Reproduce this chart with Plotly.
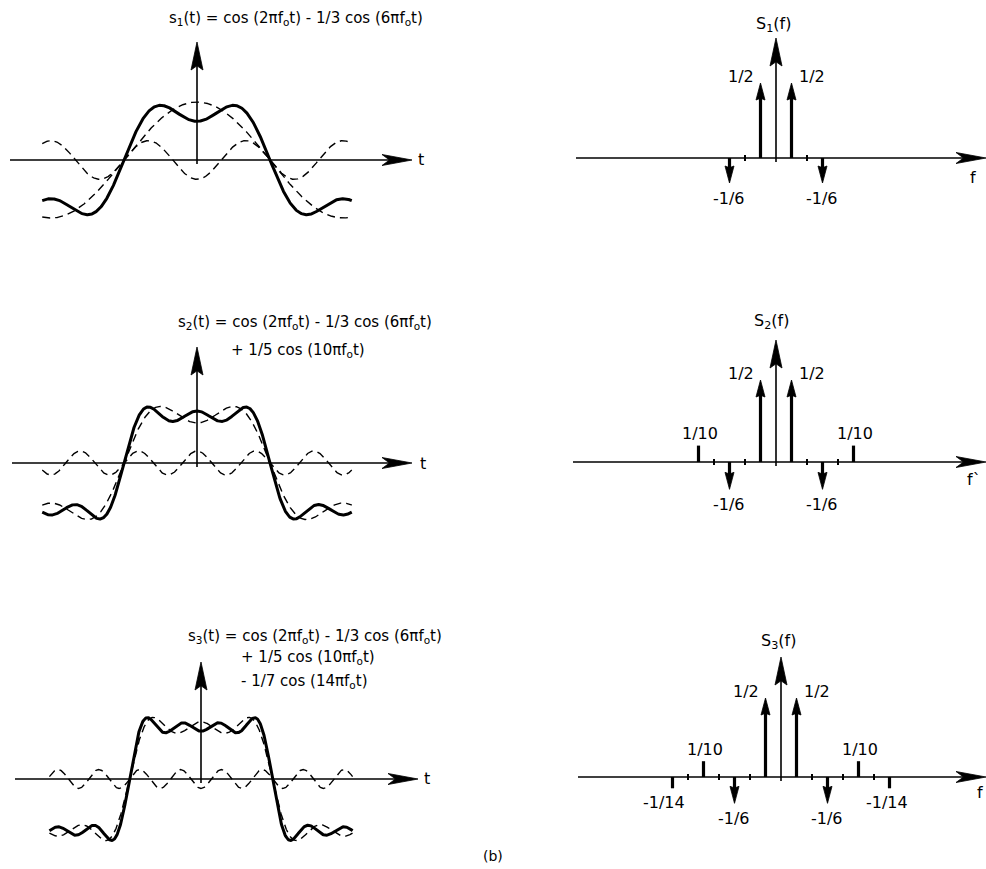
import numpy as np
import plotly.graph_objects as go

W, H = 986, 869

# ---------------- data ----------------
# Fourier series of the square wave: harmonic numbers and coefficients
harmonics = [1, 3, 5, 7]
coeffs = [1.0, -1/3, 1/5, -1/7]
t_start, t_end = -0.53, 0.53          # time span, in periods T = 1/f0

# Spectra (two-sided): frequency in multiples of f0, amplitude, label
spec1_f = [-3, -1, 1, 3]
spec1_a = [-1/6, 1/2, 1/2, -1/6]
spec1_lbl = ["-1/6", "1/2", "1/2", "-1/6"]

spec2_f = [-5, -3, -1, 1, 3, 5]
spec2_a = [1/10, -1/6, 1/2, 1/2, -1/6, 1/10]
spec2_lbl = ["1/10", "-1/6", "1/2", "1/2", "-1/6", "1/10"]

spec3_f = [-7, -5, -3, -1, 1, 3, 5, 7]
spec3_a = [-1/14, 1/10, -1/6, 1/2, 1/2, -1/6, 1/10, -1/14]
spec3_lbl = ["-1/14", "1/10", "-1/6", "1/2", "1/2", "-1/6", "1/10", "-1/14"]

spec_ticks = [[-2, 2], [-4, -2, 2, 4], [-6, -4, -2, 2, 4, 6]]

titles = [
    ["s<sub>1</sub>(t) = cos (2πf<sub>o</sub>t) - 1/3 cos (6πf<sub>o</sub>t)"],
    ["s<sub>2</sub>(t) = cos (2πf<sub>o</sub>t) - 1/3 cos (6πf<sub>o</sub>t)",
     "+ 1/5 cos (10πf<sub>o</sub>t)"],
    ["s<sub>3</sub>(t) = cos (2πf<sub>o</sub>t) - 1/3 cos (6πf<sub>o</sub>t)",
     "+ 1/5 cos (10πf<sub>o</sub>t)",
     "- 1/7 cos (14πf<sub>o</sub>t)"],
]
spec_titles = ["S<sub>1</sub>(f)", "S<sub>2</sub>(f)", "S<sub>3</sub>(f)"]
freq_axis_labels = ["f", "f`", "f"]

# ---------------- layout geometry (pixels) ----------------
time_panels = [
    dict(box=(0, 0, 440, 245), origin=(197, 160), scale=(292, 58), hax=(10, 412), vtop=42,
         title_pos=[(167, 18)], tlabel=(421, 160)),
    dict(box=(0, 285, 440, 555), origin=(197, 463), scale=(292, 60), hax=(12, 412), vtop=347,
         title_pos=[(176, 323), (229, 350)], tlabel=(423, 464)),
    dict(box=(0, 595, 440, 869), origin=(201, 779), scale=(286, 66), hax=(15, 418), vtop=662,
         title_pos=[(186, 636), (239, 657), (239, 681)], tlabel=(427, 778)),
]
freq_panels = [
    dict(box=(545, 0, 986, 245), origin=(776, 158), scale=(15.5, 150), hax=(576, 986), vtop=38,
         title_pos=(773, 24), flabel=(973, 177)),
    dict(box=(545, 285, 986, 555), origin=(776, 462), scale=(15.5, 164), hax=(573, 986), vtop=340,
         title_pos=(771, 321), flabel=(974, 480)),
    dict(box=(545, 595, 986, 869), origin=(781, 777), scale=(15.5, 158), hax=(578, 986), vtop=657,
         title_pos=(778, 641), flabel=(980, 792)),
]

FONT = "DejaVu Sans, Liberation Sans, Arial, sans-serif"
TITLE_SIZE = 15
LABEL_SIZE = 16
fig = go.Figure()
layout_axes = {}
annotations = []


def setup_axes(i, p):
    l, t, r, b = p["box"]
    ox, oy = p["origin"]
    sx, sy = p["scale"]
    xr = [(l - ox) / sx, (r - ox) / sx]
    yr = [(oy - b) / sy, (oy - t) / sy]
    sfx = "" if i == 1 else str(i)
    layout_axes["xaxis" + sfx] = dict(domain=[l / W, r / W], range=xr, visible=False,
                                      anchor="y" + sfx, fixedrange=True)
    layout_axes["yaxis" + sfx] = dict(domain=[1 - b / H, 1 - t / H], range=yr, visible=False,
                                      anchor="x" + sfx, fixedrange=True)
    return "x" + sfx, "y" + sfx


def arrow_poly(x, y, direction, L, w, notch, sx, sy):
    if direction == "up":
        return ([x, x - w / 2 / sx, x, x + w / 2 / sx, x],
                [y, y - L / sy, y - notch * L / sy, y - L / sy, y])
    if direction == "down":
        return ([x, x - w / 2 / sx, x, x + w / 2 / sx, x],
                [y, y + L / sy, y + notch * L / sy, y + L / sy, y])
    # right
    return ([x, x - L / sx, x - notch * L / sx, x - L / sx, x],
            [y, y + w / 2 / sy, y, y - w / 2 / sy, y])


def add_fill(xs, ys, xa, ya):
    fig.add_trace(go.Scatter(x=xs, y=ys, mode="lines", fill="toself", fillcolor="black",
                             line=dict(color="black", width=0.8), xaxis=xa, yaxis=ya,
                             hoverinfo="skip", showlegend=False))


def add_line(xs, ys, xa, ya, width, dash=None):
    fig.add_trace(go.Scatter(x=xs, y=ys, mode="lines",
                             line=dict(color="black", width=width, dash=dash),
                             xaxis=xa, yaxis=ya, hoverinfo="skip", showlegend=False))


def draw_axes(p, xa, ya, hL, hw, vL, vw):
    ox, oy = p["origin"]
    sx, sy = p["scale"]
    x0 = (p["hax"][0] - ox) / sx
    x1 = (p["hax"][1] - ox) / sx
    ytop = (oy - p["vtop"]) / sy
    add_line([x0, x1 - 0.6 * hL / sx], [0, 0], xa, ya, 1.6)
    px, py = arrow_poly(x1, 0, "right", hL, hw, 0.75, sx, sy)
    add_fill(px, py, xa, ya)
    add_line([0, 0], [-4 / sy, ytop - 0.6 * vL / sy], xa, ya, 1.6)
    px, py = arrow_poly(0, ytop, "up", vL, vw, 0.85, sx, sy)
    add_fill(px, py, xa, ya)


def paper_text(txt, px, py, size, xanchor="center"):
    annotations.append(dict(text=txt, x=px / W, y=1 - py / H, xref="paper", yref="paper",
                            xanchor=xanchor, yanchor="middle", showarrow=False,
                            font=dict(family=FONT, size=size, color="black")))


# ---------------- time-domain panels ----------------
t = np.linspace(t_start, t_end, 801)
terms = [c * np.cos(2 * np.pi * h * t) for h, c in zip(harmonics, coeffs)]

for k, p in enumerate(time_panels):
    xa, ya = setup_axes(k + 1, p)
    draw_axes(p, xa, ya, 30, 11, 28, 12)
    n_terms = k + 2
    partial = np.sum(terms[:n_terms], axis=0)
    if k == 0:
        dashed = [terms[0], terms[1]]
    else:
        dashed = [np.sum(terms[:n_terms - 1], axis=0), terms[n_terms - 1]]
    for d in dashed:
        add_line(t, d, xa, ya, 1.4, dash="8px,5px")
    add_line(t, partial, xa, ya, 3.0)
    for txt, (tx, ty) in zip(titles[k], p["title_pos"]):
        paper_text(txt, tx, ty, TITLE_SIZE, xanchor="left")
    paper_text("t", p["tlabel"][0], p["tlabel"][1], 16)

# ---------------- spectrum panels ----------------
spectra = [(spec1_f, spec1_a, spec1_lbl), (spec2_f, spec2_a, spec2_lbl),
           (spec3_f, spec3_a, spec3_lbl)]
for k, p in enumerate(freq_panels):
    xa, ya = setup_axes(k + 4, p)
    sx, sy = p["scale"]
    draw_axes(p, xa, ya, 30, 11, 28, 12)
    fs, amps, lbls = spectra[k]
    tx, ty = [], []
    for n in spec_ticks[k]:
        tx += [n, n, None]
        ty += [-3 / sy, 3 / sy, None]
    add_line(tx, ty, xa, ya, 2.0)
    lx, ly, ax_, ay_ = [], [], [], []
    for n, a in zip(fs, amps):
        has_arrow = abs(a) > 0.15
        if has_arrow:
            end = a - np.sign(a) * 10 / sy
            px, py = arrow_poly(n, a, "up" if a > 0 else "down", 17, 9, 0.9, sx, sy)
            ax_ += px + [None]
            ay_ += py + [None]
        else:
            end = a
        lx += [n, n, None]
        ly += [0, end, None]
    add_line(lx, ly, xa, ya, 3.2)
    if ax_:
        add_fill(ax_, ay_, xa, ya)
    for n, a, lb in zip(fs, amps, lbls):
        if lb == "1/2":
            xs, ys = (-20 if n < 0 else 20), 7
        elif lb == "-1/6":
            xs, ys = -1, -15
        elif lb == "1/10":
            xs, ys = 1, 12
        else:
            xs, ys = (-9 if n < 0 else -3), -14
        annotations.append(dict(text=lb, x=n, y=a, xref=xa, yref=ya, xshift=xs, yshift=ys,
                                showarrow=False, xanchor="center", yanchor="middle",
                                font=dict(family=FONT, size=LABEL_SIZE, color="black")))
    paper_text(spec_titles[k], p["title_pos"][0], p["title_pos"][1], LABEL_SIZE)
    paper_text(freq_axis_labels[k], p["flabel"][0], p["flabel"][1], 16)

paper_text("(b)", 493, 856, 14)

fig.update_layout(width=W, height=H, margin=dict(l=0, r=0, t=0, b=0),
                  paper_bgcolor="white", plot_bgcolor="white",
                  showlegend=False, annotations=annotations, **layout_axes)

fig.write_html("out.html", config={"displayModeBar": False},
               post_script="document.body.style.margin='0';document.body.style.overflow='hidden';")
